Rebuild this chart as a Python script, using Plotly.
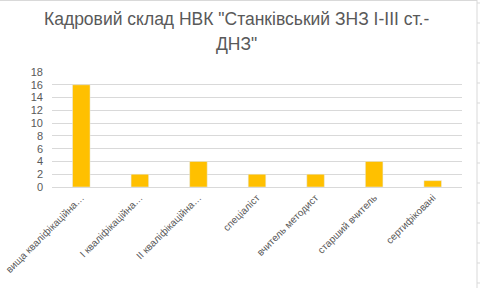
import plotly.graph_objects as go

categories = ["вища кваліфікаційна…", "I кваліфікаційна…", "II кваліфікаційна…",
              "спеціаліст", "вчитель методист", "старший вчитель", "сертифіковані"]
values = [16, 2, 4, 2, 2, 4, 1]
title_lines = ["Кадровий склад НВК \"Станківський ЗНЗ I-III ст.-", "ДНЗ\""]

W, H = 480, 288
L, R, T, B = 52, 18, 72, 101
FONT = "Liberation Sans"
GREY = "#595959"

fig = go.Figure(go.Bar(x=categories, y=values, marker_color="#FFC000", width=0.3))

def px_x(x):
    return (x - L) / (W - L - R)

def px_y(y):
    return (H - B - y) / (H - T - B)

shapes = [
    dict(type="line", xref="paper", yref="paper", x0=px_x(0), x1=px_x(477), y0=px_y(0.5), y1=px_y(0.5),
         line=dict(color="#d9d9d9", width=1)),
    dict(type="line", xref="paper", yref="paper", x0=px_x(477), x1=px_x(477), y0=px_y(0), y1=px_y(288),
         line=dict(color="#d9d9d9", width=1)),
]
for ty in range(3, 288, 20):
    shapes.append(dict(type="line", xref="paper", yref="paper", x0=px_x(477), x1=px_x(480),
                       y0=px_y(ty), y1=px_y(ty), line=dict(color="#d9d9d9", width=1)))

annotations = []
for line, cy in zip(title_lines, [19, 44]):
    annotations.append(dict(text=line, xref="paper", yref="paper", x=px_x(236), y=px_y(cy),
                            xanchor="center", yanchor="middle", showarrow=False,
                            font=dict(family=FONT, size=17.5, color=GREY)))

fig.update_layout(
    width=W, height=H,
    margin=dict(l=L, r=R, t=T, b=B, autoexpand=False),
    paper_bgcolor="white", plot_bgcolor="white",
    showlegend=False,
    font=dict(family=FONT, color=GREY, size=10),
    bargap=0.7,
    shapes=shapes,
    annotations=annotations,
)
fig.update_xaxes(tickangle=-45, showgrid=False, showline=True, linecolor="#d9d9d9", linewidth=1,
                 ticks="", tickfont=dict(family=FONT, size=10, color=GREY))
fig.update_yaxes(range=[0, 18], dtick=2, showgrid=True, gridcolor="#d9d9d9", gridwidth=1,
                 zeroline=False, showline=False, ticks="", ticklabelstandoff=8,
                 tickfont=dict(family=FONT, size=11, color=GREY))

fig.write_html("out.html")
